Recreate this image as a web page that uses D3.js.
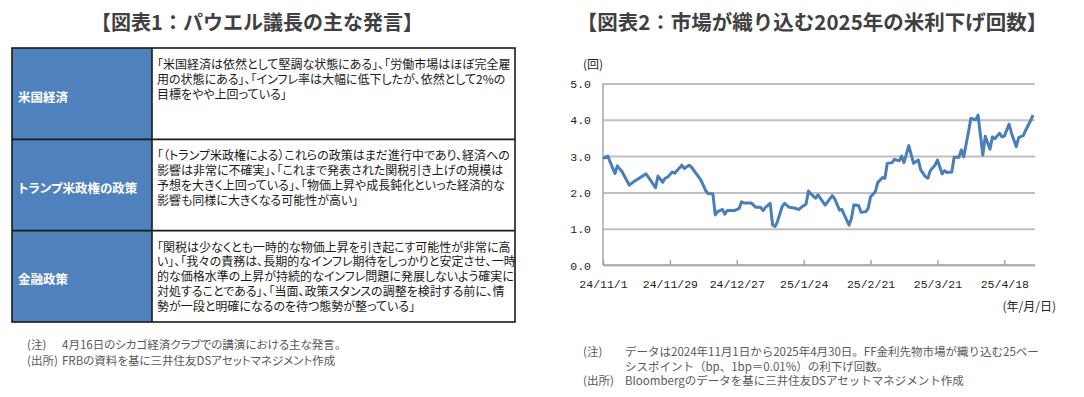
<!DOCTYPE html>
<html>
<head>
<meta charset="utf-8">
<script src="https://d3js.org/d3.v7.min.js"></script>
<style>
    body { margin: 0; background: #fff; }
    svg { display: block; font-family: "Noto Sans CJK JP", sans-serif; }
    .jp { font-feature-settings: "palt"; }
    .axis text { font-family: "Liberation Mono", monospace; font-size: 11.5px; fill: #222; }
</style>
</head>
<body>
<svg id="chart" width="1084" height="397"></svg>
<script>
// ---- data: figure 1 (table) ----
const rowLabels = ["米国経済", "トランプ米政権の政策", "金融政策"];
const rowTexts = [
    ["「米国経済は依然として堅調な状態にある」、「労働市場はほぼ完全雇",
     "用の状態にある」、「インフレ率は大幅に低下したが、依然として2%の",
     "目標をやや上回っている」"],
    ["「（トランプ米政権による）これらの政策はまだ進行中であり、経済への",
     "影響は非常に不確実」、「これまで発表された関税引き上げの規模は",
     "予想を大きく上回っている」、「物価上昇や成長鈍化といった経済的な",
     "影響も同様に大きくなる可能性が高い」"],
    ["「関税は少なくとも一時的な物価上昇を引き起こす可能性が非常に高",
     "い」、「我々の責務は、長期的なインフレ期待をしっかりと安定させ、一時",
     "的な価格水準の上昇が持続的なインフレ問題に発展しないよう確実に",
     "対処することである」、「当面、政策スタンスの調整を検討する前に、情",
     "勢が一段と明確になるのを待つ態勢が整っている」"]
];
const leftNoteHeads = ["(注)", "(出所)"];
const leftNoteTexts = ["4月16日のシカゴ経済クラブでの講演における主な発言。",
                       "FRBの資料を基に三井住友DSアセットマネジメント作成"];

// ---- data: figure 2 (line chart) ----
const dates = [
    "2024-11-01","2024-11-03","2024-11-06","2024-11-07","2024-11-09","2024-11-12","2024-11-14",
    "2024-11-19","2024-11-20","2024-11-23","2024-11-24","2024-11-26","2024-11-27","2024-11-28",
    "2024-11-30","2024-12-01","2024-12-04","2024-12-05","2024-12-07","2024-12-08","2024-12-12",
    "2024-12-14","2024-12-15","2024-12-17","2024-12-18","2024-12-19","2024-12-21","2024-12-22",
    "2024-12-23","2024-12-26","2024-12-28","2024-12-29","2024-12-30","2025-01-02","2025-01-04",
    "2025-01-06","2025-01-07","2025-01-08","2025-01-10","2025-01-11","2025-01-12","2025-01-13",
    "2025-01-15","2025-01-16","2025-01-18","2025-01-20","2025-01-22","2025-01-23","2025-01-25",
    "2025-01-26","2025-01-27","2025-01-29","2025-01-30","2025-02-02","2025-02-05","2025-02-06",
    "2025-02-08","2025-02-09","2025-02-10","2025-02-12","2025-02-13","2025-02-14","2025-02-16",
    "2025-02-17","2025-02-19","2025-02-20","2025-02-21","2025-02-23","2025-02-24","2025-02-26",
    "2025-02-27","2025-02-28","2025-03-02","2025-03-03","2025-03-05","2025-03-06","2025-03-07",
    "2025-03-09","2025-03-11","2025-03-13","2025-03-14","2025-03-16","2025-03-17","2025-03-18",
    "2025-03-20","2025-03-21","2025-03-23","2025-03-24","2025-03-25","2025-03-27","2025-03-28",
    "2025-03-30","2025-03-31","2025-04-01","2025-04-03","2025-04-04","2025-04-06","2025-04-07",
    "2025-04-09","2025-04-10","2025-04-12","2025-04-13","2025-04-14","2025-04-16","2025-04-17",
    "2025-04-18","2025-04-20","2025-04-21","2025-04-23","2025-04-24","2025-04-26","2025-04-27",
    "2025-04-29","2025-04-30"
];
const cuts = [
    2.94, 3.00, 2.52, 2.73, 2.57, 2.20, 2.30,
    2.51, 2.42, 2.13, 2.45, 2.28, 2.39, 2.42,
    2.56, 2.53, 2.75, 2.66, 2.75, 2.70, 2.34,
    2.05, 1.97, 1.96, 1.38, 1.47, 1.53, 1.40,
    1.50, 1.50, 1.56, 1.74, 1.71, 1.71, 1.59,
    1.59, 1.50, 1.59, 1.70, 1.10, 1.06, 1.19,
    1.61, 1.70, 1.59, 1.57, 1.53, 1.59, 1.68,
    2.04, 1.96, 1.84, 1.93, 1.65, 1.91, 1.82,
    1.51, 1.53, 1.38, 1.10, 1.29, 1.65, 1.64,
    1.45, 1.47, 1.56, 1.88, 2.02, 2.27, 2.41,
    2.39, 2.80, 2.82, 2.91, 2.87, 3.00, 2.82,
    3.29, 2.80, 2.89, 2.62, 2.43, 2.39, 2.60,
    2.75, 2.89, 2.51, 2.60, 2.55, 2.56, 2.97,
    2.97, 3.17, 2.98, 3.67, 4.04, 4.00, 4.13,
    3.03, 3.55, 3.19, 3.53, 3.48, 3.63, 3.53,
    3.55, 3.88, 3.63, 3.26, 3.51, 3.57, 3.72,
    3.98, 4.13
];
const yTicks = [0, 1, 2, 3, 4, 5];
const xTickDates = ["2024-11-01","2024-11-29","2024-12-27","2025-01-24","2025-02-21","2025-03-21","2025-04-18"];
const xTickLabels = ["24/11/1","24/11/29","24/12/27","25/1/24","25/2/21","25/3/21","25/4/18"];
const rightNoteHeads = ["(注)", "", "(出所)"];
const rightNoteTexts = ["データは2024年11月1日から2025年4月30日。FF金利先物市場が織り込む25ベー",
                        "シスポイント（bp、1bp＝0.01%）の利下げ回数。",
                        "Bloombergのデータを基に三井住友DSアセットマネジメント作成"];

const svg = d3.select("#chart");
const parse = d3.timeParse("%Y-%m-%d");
const titleColor = "#404040";

// ================= Figure 1 =================
svg.append("text")
    .attr("x", 257).attr("y", 30)
    .attr("text-anchor", "middle")
    .attr("font-size", 20).attr("font-weight", "bold")
    .attr("fill", titleColor)
    .text("【図表1：パウエル議長の主な発言】");

const tLeft = 12, tMid = 152, tRight = 515;
const rowY = d3.scaleBand().domain(rowLabels).range([48, 322]);

const rows = svg.append("g").selectAll("g")
    .data(rowLabels)
    .join("g")
    .attr("transform", d => `translate(0,${rowY(d)})`);

rows.append("rect")
    .attr("x", tLeft).attr("width", tMid - tLeft)
    .attr("height", rowY.bandwidth())
    .attr("fill", "#4f81bd");

rows.append("rect")
    .attr("x", tMid).attr("width", tRight - tMid)
    .attr("height", rowY.bandwidth())
    .attr("fill", "#fff");

rows.append("text").attr("class", "jp")
    .attr("x", tLeft + 6)
    .attr("y", rowY.bandwidth() / 2 + 8)
    .attr("font-size", 12.5).attr("font-weight", "bold")
    .attr("fill", "#fff")
    .text(d => d);

rows.each(function(d, i) {
    d3.select(this).append("text").attr("class", "jp")
        .attr("font-size", 12).attr("fill", "#1a1a1a")
        .selectAll("tspan")
        .data(rowTexts[i])
        .join("tspan")
        .attr("x", tMid + 5)
        .attr("y", (t, j) => 21 + j * 14.8)
        .text(t => t);
});

// table lines
const lines = svg.append("g").attr("stroke", "#1a1a1a").attr("stroke-width", 1.6).attr("fill", "none");
lines.append("rect").attr("x", tLeft).attr("y", 48).attr("width", tRight - tLeft).attr("height", 322 - 48);
lines.append("line").attr("x1", tMid).attr("x2", tMid).attr("y1", 48).attr("y2", 322);
lines.selectAll("line.sep")
    .data(rowLabels.slice(1))
    .join("line").attr("class", "sep")
    .attr("x1", tLeft).attr("x2", tRight)
    .attr("y1", d => rowY(d)).attr("y2", d => rowY(d));

// notes
const ln = svg.append("g").attr("class", "jp").attr("font-size", 11.5).attr("fill", "#595959");
ln.selectAll("text.h").data(leftNoteHeads).join("text").attr("class", "h")
    .attr("x", 27).attr("y", (d, i) => 349 + i * 16).text(d => d);
ln.selectAll("text.t").data(leftNoteTexts).join("text").attr("class", "t")
    .attr("x", 62).attr("y", (d, i) => 349 + i * 16).text(d => d);

// ================= Figure 2 =================
svg.append("text")
    .attr("x", 812).attr("y", 30)
    .attr("text-anchor", "middle")
    .attr("font-size", 20.5).attr("font-weight", "bold")
    .attr("fill", titleColor)
    .text("【図表2：市場が織り込む2025年の米利下げ回数】");

const plot = { left: 603, right: 1035, top: 83.5, bottom: 265 };
const x = d3.scaleTime()
    .domain([parse("2024-11-01"), parse("2025-04-30")])
    .range([plot.left, 1033]);
const y = d3.scaleLinear().domain([0, 5]).range([plot.bottom, plot.top]);

// y axis + gridlines
const yAxis = svg.append("g").attr("class", "axis")
    .attr("transform", `translate(${plot.left},0)`)
    .call(d3.axisLeft(y).tickValues(yTicks).tickFormat(d3.format(".1f"))
        .tickSize(-(plot.right - plot.left)).tickPadding(12));
yAxis.select(".domain").remove();
yAxis.selectAll(".tick line").attr("stroke", "#c0c0c0").attr("stroke-width", 2);
yAxis.selectAll(".tick text").attr("dy", "0.35em");

// left axis line
svg.append("line")
    .attr("x1", plot.left).attr("x2", plot.left)
    .attr("y1", plot.top).attr("y2", plot.bottom)
    .attr("stroke", "#a6a6a6").attr("stroke-width", 1.5);

// x axis
const xAxis = svg.append("g").attr("class", "axis")
    .attr("transform", `translate(0,${plot.bottom})`)
    .call(d3.axisBottom(x)
        .tickValues(xTickDates.map(parse))
        .tickFormat((d, i) => xTickLabels[i])
        .tickSizeInner(-5).tickSizeOuter(0).tickPadding(15));
xAxis.select(".domain").attr("stroke", "#a6a6a6").attr("stroke-width", 1.5)
    .attr("d", `M${plot.left},0H${plot.right}`);
xAxis.selectAll(".tick line").attr("stroke", "#a6a6a6").attr("stroke-width", 1.5).attr("y2", -5);

// unit labels
svg.append("text")
    .attr("x", 583).attr("y", 69)
    .attr("font-size", 12).attr("fill", "#222")
    .text("(回)");
svg.append("text")
    .attr("x", 1056).attr("y", 311)
    .attr("text-anchor", "end")
    .attr("font-size", 12).attr("fill", "#222")
    .text("(年/月/日)");

// line
const series = dates.map((d, i) => ({ date: parse(d), value: cuts[i] }));
svg.append("path")
    .datum(series)
    .attr("fill", "none")
    .attr("stroke", "#4a7ebb")
    .attr("stroke-width", 3)
    .attr("stroke-linejoin", "round")
    .attr("d", d3.line().x(d => x(d.date)).y(d => y(d.value)));

// notes (no proportional kana here: the reference sets these wider)
const rn = svg.append("g").attr("font-size", 11.5).attr("fill", "#595959");
rn.selectAll("text.h").data(rightNoteHeads).join("text").attr("class", "h")
    .attr("x", 583).attr("y", (d, i) => 356 + i * 14.5).text(d => d);
rn.selectAll("text.t").data(rightNoteTexts).join("text").attr("class", "t")
    .attr("x", 625).attr("y", (d, i) => 356 + i * 14.5).text(d => d);
</script>
</body>
</html>
